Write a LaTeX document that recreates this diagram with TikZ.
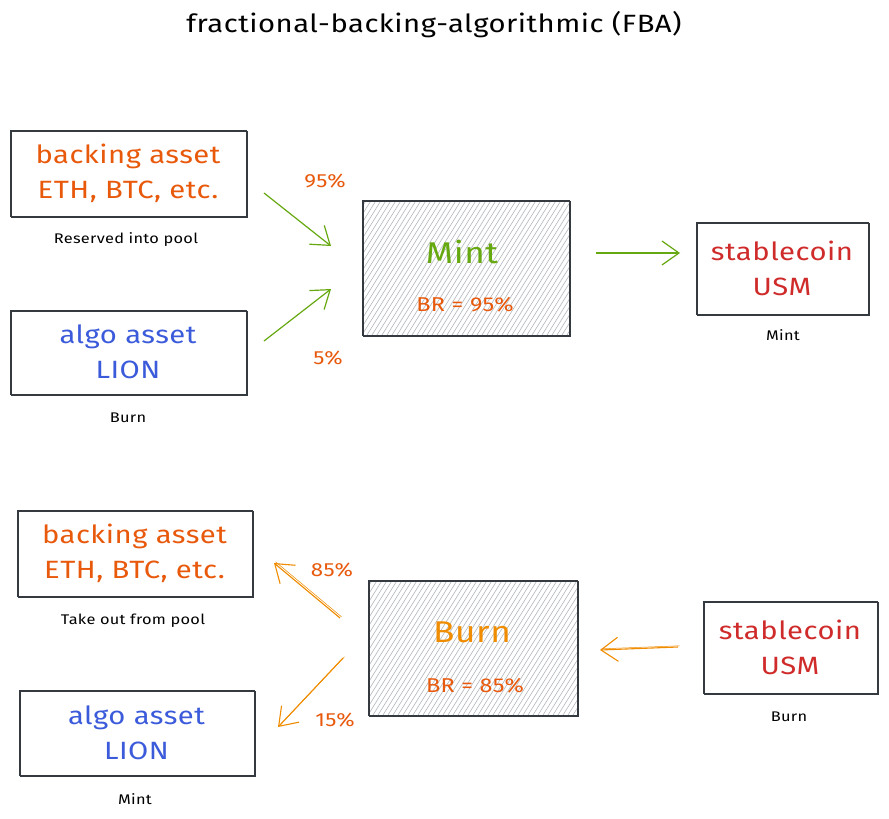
\documentclass[tikz,border=0pt]{standalone}
\usepackage{fontspec}
\setmainfont[FakeStretch=1.17, LetterSpace=2]{Fira Sans}
\usetikzlibrary{arrows.meta}
\definecolor{ink}{HTML}{343A40}
\definecolor{orng}{HTML}{E8590C}
\definecolor{blu}{HTML}{3B5BDB}
\definecolor{rd}{HTML}{D02B2B}
\definecolor{grn}{HTML}{66A80F}
\definecolor{amb}{HTML}{F08C00}
\definecolor{hatchc}{HTML}{B4B9BE}
\tikzset{
  box/.style={draw=ink, line width=1pt, inner sep=0pt, align=center,
    postaction={draw=ink, line width=0.5pt, transform canvas={shift={(1.2pt,-0.9pt)}}}},
  hatchbox/.style={box, path picture={
      \foreach \i in {-100,-95,...,250}
        \draw[hatchc, line width=0.6pt] ([xshift=\i pt]path picture bounding box.south west) -- ++(58:200pt);}},
  caption/.style={font=\fontsize{14}{16}\selectfont, text=black},
  pct/.style={font=\fontsize{19}{21}\selectfont, text=orng},
  garrow/.style={draw=grn, line width=1.2pt, -{Straight Barb[length=17pt,width=24pt,line width=1.2pt]}},
  oarrow/.style={draw=amb, line width=1.1pt, -{Straight Barb[length=17pt,width=24pt,line width=1.1pt]},
    postaction={draw=amb, line width=0.5pt, -, transform canvas={shift={(1.5pt,1.2pt)}}}},
  big/.style={font=\fontsize{25}{35}\selectfont}
}
\begin{document}
\begin{tikzpicture}[x=1pt,y=-1pt]
\useasboundingbox[fill=white] (0,0) rectangle (889,819);
\node (title) at (434,25) {\fontsize{25}{28}\selectfont fractional-backing-algorithmic (FBA)};

% ---- top: Mint ----
\node[box, minimum width=236pt, minimum height=86pt, big, text=orng] (b1) at (128,173) {backing asset\\ETH, BTC, etc.};
\node[caption] (c1) at (126,240) {Reserved into pool};
\node[box, minimum width=236pt, minimum height=84pt, big, text=blu] (b2) at (128,352) {algo asset\\LION};
\node[caption] (c2) at (128,418) {Burn};
\node[hatchbox, minimum width=207pt, minimum height=135pt] (mint) at (465.5,267.5) {};
\node[font=\fontsize{30}{34}\selectfont, text=grn] (mintt) at (462,252) {Mint};
\node[font=\fontsize{20}{22}\selectfont, text=orng] (br1) at (465,305) {BR = 95\%};
\node[box, minimum width=172pt, minimum height=92pt, big, text=rd] (s1) at (782,268) {stablecoin\\USM};
\node[caption] (c3) at (783,335) {Mint};
\node[pct] (p95) at (325,181) {95\%};
\node[pct] (p5) at (328,358) {5\%};
\coordinate (a1s) at (264,193); \coordinate (a1e) at (331,246);
\coordinate (a2s) at (264,341); \coordinate (a2e) at (331,289);
\coordinate (a3s) at (596,253); \coordinate (a3e) at (680,253);
\draw[garrow] (a1s) -- (a1e);
\draw[garrow] (a2s) -- (a2e);
\draw[garrow] (a3s) -- (a3e);

% ---- bottom: Burn ----
\node[box, minimum width=235pt, minimum height=86pt, big, text=orng] (b3) at (134.5,553) {backing asset\\ETH, BTC, etc.};
\node[caption] (c4) at (133,621) {Take out from pool};
\node[box, minimum width=235pt, minimum height=85pt, big, text=blu] (b4) at (136.5,732.5) {algo asset\\LION};
\node[caption] (c5) at (135,799) {Mint};
\node[hatchbox, minimum width=209pt, minimum height=135pt] (burn) at (472.5,647.5) {};
\node[font=\fontsize{30}{34}\selectfont, text=amb] (burnt) at (472,632) {Burn};
\node[font=\fontsize{20}{22}\selectfont, text=orng] (br2) at (475,686) {BR = 85\%};
\node[box, minimum width=174pt, minimum height=92pt, big, text=rd] (s2) at (790,647) {stablecoin\\USM};
\node[caption] (c6) at (789,717) {Burn};
\node[pct] (p85) at (332,570) {85\%};
\node[pct] (p15) at (335,720) {15\%};
\coordinate (a4s) at (340,618); \coordinate (a4e) at (274,563);
\coordinate (a5s) at (343,658); \coordinate (a5e) at (278,727);
\coordinate (a6s) at (678,647); \coordinate (a6e) at (600,650);
\draw[oarrow] (a4s) -- (a4e);
\draw[oarrow] (a5s) -- (a5e);
\draw[oarrow] (a6s) -- (a6e);
\end{tikzpicture}
\end{document}
